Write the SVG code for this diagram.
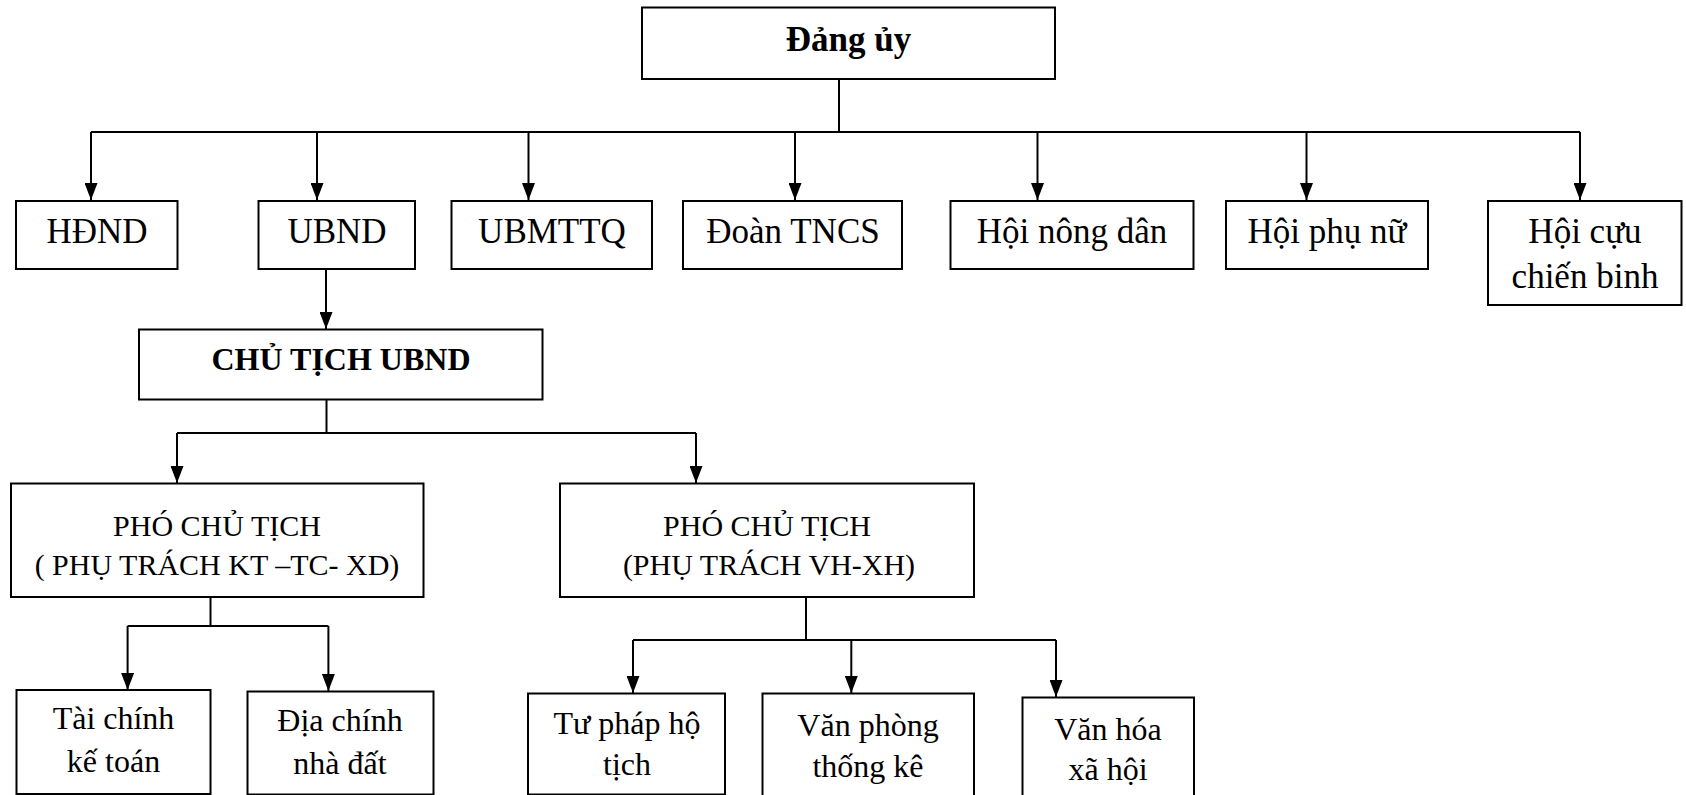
<svg xmlns="http://www.w3.org/2000/svg" width="1686" height="795" viewBox="0 0 1686 795">
<style>
.box{fill:#fff;stroke:#000;stroke-width:2}
.c{fill:none;stroke:#000;stroke-width:2}
text{font-family:"Liberation Serif","Times New Roman",serif;fill:#000;text-anchor:middle}
.t35{font-size:35px}
.t30{font-size:30px}
.t32{font-size:32px}
.b{font-weight:bold}
</style>
<defs>
<marker id="arr" markerUnits="userSpaceOnUse" markerWidth="17" markerHeight="13" refX="17" refY="6.5" orient="auto">
<path d="M0,0 L17,6.5 L0,13 z" fill="#000"/>
</marker>
</defs>
<rect width="1686" height="795" fill="#fff"/>
<g id="connectors">
<path class="c" d="M839,79 V132 M91,132 H1580 M326.5,399 V433 M177,433 H696 M210.5,597 V626 M127.6,626 H328.4 M806,597 V640 M633,640 H1056"/>
<path class="c" marker-end="url(#arr)" d="M91,132 V200"/>
<path class="c" marker-end="url(#arr)" d="M317,132 V200"/>
<path class="c" marker-end="url(#arr)" d="M528.5,132 V200"/>
<path class="c" marker-end="url(#arr)" d="M795,132 V200"/>
<path class="c" marker-end="url(#arr)" d="M1037.5,132 V200"/>
<path class="c" marker-end="url(#arr)" d="M1306.5,132 V200"/>
<path class="c" marker-end="url(#arr)" d="M1580,132 V200"/>
<path class="c" marker-end="url(#arr)" d="M326,269 V329"/>
<path class="c" marker-end="url(#arr)" d="M177,433 V483"/>
<path class="c" marker-end="url(#arr)" d="M696,433 V483"/>
<path class="c" marker-end="url(#arr)" d="M127.6,626 V690"/>
<path class="c" marker-end="url(#arr)" d="M328.4,626 V691"/>
<path class="c" marker-end="url(#arr)" d="M633,640 V693"/>
<path class="c" marker-end="url(#arr)" d="M851.3,640 V693"/>
<path class="c" marker-end="url(#arr)" d="M1056,640 V697"/>
</g>
<g id="dang-uy"><rect class="box" x="642" y="7.5" width="413" height="71.5"/><text class="t35 b" x="848.5" y="51">Đảng ủy</text></g>
<g id="hdnd"><rect class="box" x="16" y="201" width="161.5" height="68"/><text class="t35" x="97" y="243">HĐND</text></g>
<g id="ubnd"><rect class="box" x="258.5" y="201" width="156.5" height="68"/><text class="t35" x="337" y="243">UBND</text></g>
<g id="ubmttq"><rect class="box" x="451.5" y="201" width="200.5" height="68"/><text class="t35" x="552" y="243">UBMTTQ</text></g>
<g id="doan-tncs"><rect class="box" x="683" y="201" width="219" height="68"/><text class="t35" x="793" y="243">Đoàn TNCS</text></g>
<g id="hoi-nong-dan"><rect class="box" x="950.5" y="201" width="243" height="68"/><text class="t35" x="1072" y="243">Hội nông dân</text></g>
<g id="hoi-phu-nu"><rect class="box" x="1226" y="201" width="202" height="68"/><text class="t35" x="1327" y="243">Hội phụ nữ</text></g>
<g id="hoi-cuu-chien-binh"><rect class="box" x="1488" y="201" width="193.5" height="104"/><text class="t35" x="1585" y="243">Hội cựu</text><text class="t35" x="1585" y="288">chiến binh</text></g>
<g id="chu-tich"><rect class="box" x="139" y="329.5" width="403.5" height="70"/><text class="t32 b" x="341" y="370">CHỦ TỊCH UBND</text></g>
<g id="pct-kt"><rect class="box" x="11" y="483.5" width="412.5" height="113.5"/><text class="t30" x="217" y="536">PHÓ CHỦ TỊCH</text><text class="t30" x="217" y="575">( PHỤ TRÁCH KT –TC- XD)</text></g>
<g id="pct-vh"><rect class="box" x="560" y="483.5" width="414" height="113.5"/><text class="t30" x="767" y="536">PHÓ CHỦ TỊCH</text><text class="t30" x="769" y="575">(PHỤ TRÁCH VH-XH)</text></g>
<g id="tai-chinh"><rect class="box" x="16.5" y="690" width="194" height="104"/><text class="t32" x="113.5" y="729">Tài chính</text><text class="t32" x="113.5" y="772">kế toán</text></g>
<g id="dia-chinh"><rect class="box" x="247.5" y="691.5" width="186" height="103"/><text class="t32" x="340" y="731">Địa chính</text><text class="t32" x="340" y="774">nhà đất</text></g>
<g id="tu-phap"><rect class="box" x="528" y="693.5" width="197" height="101"/><text class="t32" x="627" y="734">Tư pháp hộ</text><text class="t32" x="627" y="775">tịch</text></g>
<g id="van-phong"><rect class="box" x="762.5" y="693.5" width="211.5" height="103"/><text class="t32" x="868" y="736">Văn phòng</text><text class="t32" x="868" y="777">thống kê</text></g>
<g id="van-hoa"><rect class="box" x="1022.5" y="697.5" width="171.5" height="100"/><text class="t32" x="1108" y="740">Văn hóa</text><text class="t32" x="1108" y="780">xã hội</text></g>
</svg>
